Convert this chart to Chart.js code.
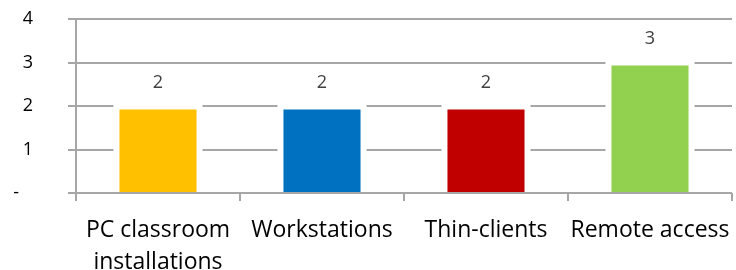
<!DOCTYPE html>
<html lang="en">
<head>
    <meta charset="UTF-8">
    <title>Bar Chart</title>
    <script src="https://cdn.jsdelivr.net/npm/chart.js"></script>
    <style>
        html, body {
            margin: 0;
            padding: 0;
            background: #ffffff;
        }
        .chart-container {
            width: 736px;
            height: 270px;
        }
    </style>
</head>
<body>

    <div class="chart-container">
        <canvas id="barChart"></canvas>
    </div>

    <script>
        const categories = [["PC classroom", "installations"], "Workstations", "Thin-clients", "Remote access"];
        const values = [1.92, 1.92, 1.92, 2.93];
        const barColors = ["#FFC000", "#0070C0", "#C00000", "#92D050"];
        const yTicks = [0, 1, 2, 3, 4];

        const gridGray = "#a6a6a6";
        const fontFamily = "'Open Sans', 'Noto Sans', sans-serif";

        // white gap around each bar, cutting the gridlines like in Excel
        const barHalo = {
            id: "barHalo",
            beforeDatasetsDraw(chart) {
                const ctx = chart.ctx;
                ctx.save();
                ctx.fillStyle = "#ffffff";
                chart.getDatasetMeta(0).data.forEach(bar => {
                    const p = bar.getProps(["x", "y", "base", "width"], true);
                    ctx.fillRect(p.x - p.width / 2 - 6, p.y - 6, p.width + 12, p.base - p.y + 5);
                });
                ctx.restore();
            }
        };

        // value labels above bars
        const barLabels = {
            id: "barLabels",
            afterDatasetsDraw(chart) {
                const ctx = chart.ctx;
                ctx.save();
                ctx.font = "18px " + fontFamily;
                ctx.fillStyle = "#404040";
                ctx.textAlign = "center";
                ctx.textBaseline = "middle";
                chart.getDatasetMeta(0).data.forEach((bar, i) => {
                    const p = bar.getProps(["x", "y"], true);
                    ctx.fillText(String(Math.round(values[i])), p.x, p.y - 27);
                });
                ctx.restore();
            }
        };

        new Chart(document.getElementById("barChart").getContext("2d"), {
            type: "bar",
            data: {
                labels: categories,
                datasets: [{
                    data: values,
                    backgroundColor: barColors,
                    borderWidth: 0,
                    categoryPercentage: 1,
                    barPercentage: 0.47
                }]
            },
            options: {
                responsive: true,
                maintainAspectRatio: false,
                animation: false,
                layout: {
                    padding: { top: 19, right: 4, bottom: 0, left: 0 }
                },
                plugins: {
                    legend: { display: false },
                    tooltip: { enabled: false }
                },
                scales: {
                    x: {
                        offset: true,
                        grid: {
                            offset: true,
                            drawOnChartArea: false,
                            color: gridGray,
                            lineWidth: 2,
                            tickLength: 8
                        },
                        border: { display: false },
                        ticks: {
                            color: "#000000",
                            padding: 13,
                            maxRotation: 0,
                            autoSkip: false,
                            font: { family: fontFamily, size: 23, lineHeight: 1.39 }
                        },
                        afterFit(scale) {
                            scale.height = 77;
                            scale.paddingLeft = 0;
                            scale.paddingRight = 0;
                        }
                    },
                    y: {
                        min: yTicks[0],
                        max: yTicks[yTicks.length - 1],
                        afterBuildTicks(scale) {
                            scale.ticks = yTicks.map(v => ({ value: v }));
                        },
                        grid: {
                            color: gridGray,
                            lineWidth: 2,
                            tickLength: 8
                        },
                        border: { display: true, color: gridGray, width: 2 },
                        ticks: {
                            color: "#000000",
                            padding: 35,
                            font: { family: fontFamily, size: 18 },
                            callback: v => v === 0 ? "-   " : String(v)
                        },
                        afterFit(scale) {
                            scale.width = 76;
                            scale.paddingTop = 0;
                            scale.paddingBottom = 0;
                        }
                    }
                }
            },
            plugins: [barHalo, barLabels]
        });
    </script>

</body>
</html>
